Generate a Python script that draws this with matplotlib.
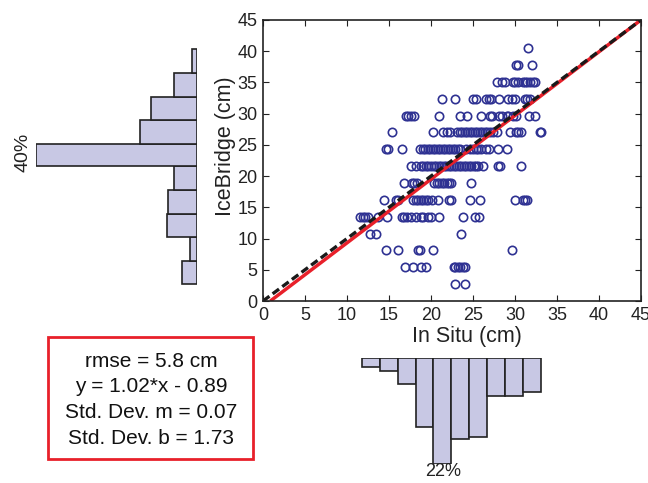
import matplotlib
matplotlib.use('Agg')
import matplotlib.pyplot as plt
from matplotlib.patches import Rectangle

plt.rcParams['font.family'] = ['Liberation Sans', 'DejaVu Sans']

# IceBridge levels (cm) and the In Situ values (cm) read along each level
ib_levels = [2.7, 5.4, 8.1, 10.8, 13.5, 16.2, 18.9, 21.6, 24.3, 27.0,
             29.7, 32.4, 35.1, 37.8, 40.5]
insitu_rows = [
    [22.9, 24.0],
    [16.9, 17.9, 18.8, 19.4, 22.7, 22.9, 23.2, 23.5, 23.8, 24.1],
    [14.7, 16.1, 18.5, 18.7, 20.2, 29.7],
    [12.7, 13.4, 23.6],
    [11.6, 11.9, 12.2, 12.5, 13.7, 14.8, 16.6, 16.8, 17.1, 17.6, 18.2,
     18.8, 19.1, 19.7, 20.0, 20.9, 23.8, 25.2, 25.7],
    [14.4, 15.8, 16.1, 17.9, 18.2, 18.5, 18.8, 19.1, 19.4, 19.7, 20.1,
     20.8, 22.1, 22.4, 24.6, 25.8, 30.0, 31.0, 31.2, 31.4],
    [16.8, 17.7, 18.0, 18.3, 20.4, 20.7, 21.0, 21.3, 21.6, 21.9, 22.2,
     22.4, 24.8],
    [17.6, 18.2, 18.8, 19.1, 19.4, 19.7, 20.0, 20.3, 20.6, 20.9, 21.2,
     21.5, 21.8, 22.1, 22.4, 22.7, 23.0, 23.3, 23.6, 23.9, 24.2, 24.5,
     24.8, 25.1, 25.4, 25.6, 26.2, 28.0, 28.2, 30.7],
    [14.6, 14.9, 16.5, 18.7, 19.0, 19.3, 19.6, 19.9, 20.2, 20.5, 20.8,
     21.1, 21.4, 21.7, 22.0, 22.3, 22.6, 22.9, 23.2, 23.5, 24.2, 24.6,
     25.0, 25.3, 25.6, 26.0, 26.6, 26.9, 28.0, 29.0],
    [15.4, 20.2, 21.4, 21.9, 22.3, 23.1, 23.4, 23.7, 24.0, 24.3, 24.6,
     24.9, 25.2, 25.5, 25.8, 26.1, 26.4, 26.7, 27.0, 27.4, 27.8, 29.4,
     30.1, 30.4, 30.7, 33.0, 33.1],
    [17.0, 17.3, 17.6, 18.0, 21.0, 23.4, 24.3, 25.9, 27.0, 27.3, 28.1,
     28.4, 29.0, 29.2, 29.8, 30.1, 31.7, 32.4],
    [21.3, 22.9, 25.0, 25.4, 26.6, 26.9, 27.2, 28.1, 29.2, 29.6, 30.0,
     31.2, 31.4, 31.8],
    [27.8, 28.4, 28.8, 29.8, 30.0, 30.4, 31.0, 31.2, 31.4, 31.8, 32.1, 32.4],
    [30.1, 30.3, 32.0],
    [31.5],
]

# fit line
fit_slope = 1.02
fit_icept = -0.89

# histogram of IceBridge values (percent per bin)
ib_edges = [2.7, 6.4, 10.3, 13.9, 17.8, 21.6, 25.2, 29.0, 32.7, 36.5, 40.3]
ib_pct = [3.8, 1.8, 7.5, 7.2, 5.8, 40.0, 14.1, 11.4, 5.6, 1.3]

# histogram of In Situ values (percent per bin)
situ_edges = [11.75, 13.93, 16.04, 18.18, 20.28, 22.42, 24.52, 26.63,
              28.77, 30.92, 33.06]
situ_pct = [1.9, 2.7, 5.4, 14.3, 22.0, 16.7, 16.3, 7.8, 7.8, 7.1]

stats_lines = ['rmse = 5.8 cm', 'y = 1.02*x - 0.89',
               'Std. Dev. m = 0.07', 'Std. Dev. b = 1.73']

ticks = [0, 5, 10, 15, 20, 25, 30, 35, 40, 45]

W, H = 648, 483
fig = plt.figure(figsize=(W / 100, H / 100), dpi=100)

def frac(x0, y0, x1, y1):
    # pixel box -> figure fraction [left, bottom, width, height]
    return [x0 / W, 1 - y1 / H, (x1 - x0) / W, (y1 - y0) / H]

blue = '#2E3192'
bar_face = '#C8C8E4'
bar_edge = '#222222'
red = '#E8202A'

# main scatter axes
ax = fig.add_axes(frac(263, 20, 641, 301))
xs, ys = [], []
for lev, row in zip(ib_levels, insitu_rows):
    xs += row
    ys += [lev] * len(row)
ax.plot(xs, ys, 'o', mfc='none', mec=blue, ms=6, mew=1.2, ls='none')
x_start = -fit_icept / fit_slope
ax.plot([x_start, 45], [fit_slope * x_start + fit_icept, fit_slope * 45 + fit_icept],
        color=red, lw=2.5, solid_capstyle='butt')
ax.plot([0, 45], [0, 45], color='#1a1a1a', lw=2.4, ls=(0, (2.4, 1.2)))
ax.set_xlim(0, 45)
ax.set_ylim(0, 45)
ax.set_xticks(ticks)
ax.set_yticks(ticks)
ax.tick_params(direction='in', top=True, right=True, length=4, width=0.8,
               labelsize=13, pad=4, colors='#222222')
for s in ax.spines.values():
    s.set_linewidth(1.2)
    s.set_color('#222222')
ax.set_xlabel('In Situ (cm)', fontsize=15.5, va='center', color='#222222')
ax.xaxis.set_label_coords(0.54, -0.125)
ax.set_ylabel('IceBridge (cm)', fontsize=15.5, va='center', color='#222222')
ax.yaxis.set_label_coords(-0.10, 0.55)

# left histogram
axl = fig.add_axes(frac(36, 20, 197, 301))
ib_bottoms = ib_edges[:-1]
ib_heights = [b - a for a, b in zip(ib_edges[:-1], ib_edges[1:])]
axl.barh(ib_bottoms, ib_pct, height=ib_heights, align='edge',
         color=bar_face, edgecolor=bar_edge, linewidth=1.2)
axl.set_xlim(40, 0)
axl.set_ylim(0, 45)
axl.axis('off')
fig.text(23 / W, 1 - 152 / H, '40%', rotation=90, ha='center', va='center',
         fontsize=14, color='#222222')

# bottom histogram
axb = fig.add_axes(frac(263, 358, 641, 464.3))
situ_lefts = situ_edges[:-1]
situ_widths = [b - a for a, b in zip(situ_edges[:-1], situ_edges[1:])]
axb.bar(situ_lefts, situ_pct, width=situ_widths, align='edge',
        color=bar_face, edgecolor=bar_edge, linewidth=1.2)
axb.set_xlim(0, 45)
axb.set_ylim(22, 0)
axb.axis('off')
fig.text(443 / W, 1 - 472 / H, '22%', ha='center', va='center',
         fontsize=13, color='#222222')

# stats box
fig.add_artist(Rectangle((48 / W, 1 - 459 / H), (253 - 48) / W, (459 - 337) / H,
                         transform=fig.transFigure, fill=False,
                         edgecolor=red, linewidth=2.0))
base_y = 367
for i, line in enumerate(stats_lines):
    fig.text(151 / W, 1 - (base_y + 25.5 * i) / H, line, ha='center',
             va='baseline', fontsize=15, color='#111111')

fig.savefig('out.png', dpi=100)
